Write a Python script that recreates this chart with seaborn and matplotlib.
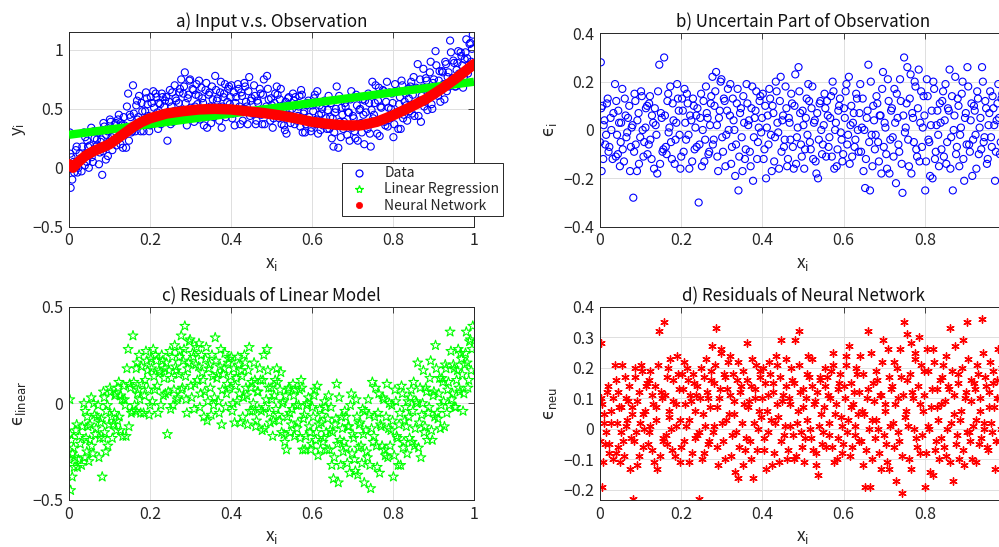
import matplotlib
matplotlib.use("Agg")
import numpy as np
import pandas as pd
import seaborn as sns
import matplotlib.pyplot as plt
from matplotlib.lines import Line2D

# ---------------- data ----------------
x_in = [
    0.002, 0.004, 0.006, 0.009, 0.013, 0.017, 0.021, 0.026, 0.031, 0.037,
    0.042, 0.045, 0.049, 0.052, 0.056, 0.061, 0.065, 0.069, 0.074, 0.078,
    0.082, 0.085, 0.088, 0.092, 0.096, 0.101, 0.105, 0.109, 0.113, 0.117,
    0.121, 0.124, 0.128, 0.133, 0.137, 0.141, 0.146, 0.150, 0.154, 0.158,
    0.162, 0.166, 0.169, 0.173, 0.177, 0.181, 0.186, 0.190, 0.194, 0.198,
    0.202, 0.206, 0.210, 0.214, 0.218, 0.222, 0.227, 0.231, 0.235, 0.238,
    0.243, 0.247, 0.251, 0.255, 0.259, 0.263, 0.267, 0.271, 0.274, 0.278,
    0.282, 0.286, 0.289, 0.293, 0.297, 0.301, 0.305, 0.309, 0.313, 0.317,
    0.321, 0.325, 0.329, 0.333, 0.337, 0.341, 0.345, 0.349, 0.353, 0.357,
    0.361, 0.365, 0.369, 0.373, 0.377, 0.381, 0.385, 0.389, 0.393, 0.397,
    0.401, 0.405, 0.409, 0.413, 0.417, 0.421, 0.425, 0.429, 0.433, 0.437,
    0.441, 0.445, 0.449, 0.453, 0.457, 0.461, 0.465, 0.469, 0.473, 0.477,
    0.481, 0.485, 0.489, 0.493, 0.497, 0.501, 0.505, 0.509, 0.513, 0.517,
    0.521, 0.525, 0.529, 0.533, 0.537, 0.541, 0.545, 0.549, 0.553, 0.557,
    0.561, 0.565, 0.569, 0.573, 0.577, 0.581, 0.585, 0.589, 0.593, 0.597,
    0.601, 0.605, 0.609, 0.613, 0.617, 0.621, 0.625, 0.629, 0.633, 0.637,
    0.641, 0.645, 0.649, 0.653, 0.657, 0.661, 0.665, 0.669, 0.673, 0.677,
    0.681, 0.685, 0.689, 0.693, 0.697, 0.701, 0.705, 0.709, 0.713, 0.717,
    0.721, 0.725, 0.729, 0.733, 0.737, 0.741, 0.745, 0.749, 0.753, 0.757,
    0.761, 0.765, 0.769, 0.773, 0.777, 0.781, 0.785, 0.789, 0.793, 0.797,
    0.801, 0.805, 0.809, 0.813, 0.817, 0.821, 0.825, 0.829, 0.833, 0.837,
    0.841, 0.845, 0.849, 0.853, 0.857, 0.861, 0.865, 0.869, 0.873, 0.877,
    0.881, 0.885, 0.889, 0.893, 0.897, 0.901, 0.905, 0.909, 0.913, 0.917,
    0.921, 0.925, 0.929, 0.933, 0.937, 0.941, 0.945, 0.949, 0.953, 0.957,
    0.961, 0.965, 0.969, 0.973, 0.977, 0.981, 0.985, 0.989, 0.993, 0.997,
    0.000, 0.003, 0.008, 0.011, 0.015, 0.019, 0.023, 0.028, 0.033, 0.039,
    0.040, 0.044, 0.047, 0.051, 0.055, 0.059, 0.063, 0.067, 0.072, 0.076,
    0.080, 0.084, 0.087, 0.091, 0.095, 0.099, 0.103, 0.107, 0.112, 0.116,
    0.120, 0.123, 0.127, 0.131, 0.135, 0.139, 0.143, 0.148, 0.152, 0.156,
    0.160, 0.164, 0.168, 0.171, 0.175, 0.179, 0.184, 0.188, 0.192, 0.196,
    0.200, 0.204, 0.208, 0.212, 0.216, 0.220, 0.225, 0.229, 0.233, 0.237,
    0.240, 0.245, 0.249, 0.253, 0.257, 0.261, 0.265, 0.269, 0.273, 0.277,
    0.280, 0.284, 0.288, 0.291, 0.295, 0.299, 0.303, 0.307, 0.311, 0.315,
    0.320, 0.323, 0.327, 0.331, 0.335, 0.339, 0.343, 0.347, 0.351, 0.355,
    0.359, 0.363, 0.367, 0.371, 0.375, 0.379, 0.383, 0.387, 0.391, 0.395,
    0.399, 0.403, 0.407, 0.411, 0.415, 0.419, 0.423, 0.427, 0.431, 0.435,
    0.439, 0.443, 0.447, 0.451, 0.455, 0.459, 0.463, 0.467, 0.471, 0.475,
    0.479, 0.483, 0.487, 0.491, 0.495, 0.499, 0.503, 0.507, 0.511, 0.515,
    0.519, 0.523, 0.527, 0.531, 0.535, 0.539, 0.543, 0.547, 0.551, 0.555,
    0.559, 0.563, 0.567, 0.571, 0.575, 0.579, 0.583, 0.587, 0.591, 0.595,
    0.599, 0.603, 0.607, 0.611, 0.615, 0.619, 0.623, 0.627, 0.631, 0.635,
    0.639, 0.643, 0.647, 0.651, 0.655, 0.659, 0.663, 0.667, 0.671, 0.675,
    0.679, 0.683, 0.687, 0.691, 0.695, 0.699, 0.703, 0.707, 0.711, 0.715,
    0.719, 0.723, 0.727, 0.731, 0.735, 0.739, 0.743, 0.747, 0.751, 0.755,
    0.759, 0.763, 0.767, 0.771, 0.775, 0.779, 0.783, 0.787, 0.791, 0.795,
    0.799, 0.803, 0.807, 0.811, 0.815, 0.819, 0.823, 0.827, 0.831, 0.835,
    0.839, 0.843, 0.847, 0.851, 0.855, 0.859, 0.863, 0.867, 0.871, 0.875,
    0.879, 0.883, 0.887, 0.891, 0.895, 0.899, 0.903, 0.907, 0.911, 0.915,
    0.919, 0.923, 0.927, 0.931, 0.935, 0.939, 0.943, 0.947, 0.951, 0.955,
    0.959, 0.963, 0.967, 0.971, 0.975, 0.979, 0.983, 0.987, 0.991, 0.995,
]

y_obs = [
    0.30, -0.17, 0.09, 0.02, -0.04, 0.15, -0.04, 0.12, -0.03, 0.30,
    0.12, 0.23, 0.00, 0.19, 0.09, 0.31, 0.15, 0.24, 0.03, 0.22,
    -0.06, 0.38, 0.17, 0.28, 0.10, 0.41, 0.26, 0.22, 0.37, 0.19,
    0.41, 0.27, 0.38, 0.17, 0.36, 0.17, 0.63, 0.45, 0.30, 0.70,
    0.34, 0.53, 0.41, 0.61, 0.31, 0.48, 0.41, 0.64, 0.54, 0.31,
    0.60, 0.39, 0.51, 0.63, 0.47, 0.55, 0.37, 0.60, 0.52, 0.44,
    0.23, 0.56, 0.37, 0.64, 0.48, 0.59, 0.42, 0.55, 0.67, 0.47,
    0.63, 0.81, 0.42, 0.59, 0.74, 0.51, 0.67, 0.39, 0.62, 0.54,
    0.74, 0.48, 0.59, 0.36, 0.66, 0.34, 0.62, 0.52, 0.69, 0.43,
    0.78, 0.57, 0.46, 0.64, 0.34, 0.60, 0.71, 0.50, 0.67, 0.54,
    0.70, 0.46, 0.36, 0.60, 0.71, 0.52, 0.64, 0.40, 0.72, 0.56,
    0.37, 0.77, 0.57, 0.46, 0.70, 0.37, 0.57, 0.48, 0.63, 0.37,
    0.75, 0.48, 0.78, 0.58, 0.40, 0.53, 0.42, 0.63, 0.69, 0.45,
    0.58, 0.37, 0.53, 0.32, 0.29, 0.59, 0.48, 0.42, 0.63, 0.37,
    0.53, 0.44, 0.61, 0.66, 0.30, 0.48, 0.37, 0.55, 0.43, 0.31,
    0.53, 0.59, 0.37, 0.65, 0.45, 0.32, 0.50, 0.38, 0.55, 0.33,
    0.61, 0.43, 0.25, 0.18, 0.47, 0.69, 0.17, 0.39, 0.51, 0.33,
    0.55, 0.36, 0.47, 0.23, 0.65, 0.44, 0.31, 0.62, 0.23, 0.49,
    0.38, 0.58, 0.20, 0.47, 0.33, 0.55, 0.18, 0.73, 0.45, 0.70,
    0.29, 0.68, 0.52, 0.41, 0.65, 0.36, 0.73, 0.51, 0.42, 0.63,
    0.26, 0.71, 0.47, 0.33, 0.60, 0.74, 0.42, 0.56, 0.53, 0.67,
    0.48, 0.73, 0.62, 0.44, 0.68, 0.88, 0.57, 0.39, 0.68, 0.52,
    0.76, 0.49, 0.66, 0.90, 0.50, 0.75, 0.99, 0.64, 0.74, 0.56,
    0.82, 0.71, 0.90, 0.65, 0.81, 1.08, 0.73, 0.91, 0.69, 0.83,
    0.99, 0.77, 0.95, 0.68, 0.92, 1.09, 0.80, 1.05, 0.90, 1.13,
    -0.01, 0.12, -0.10, 0.05, 0.01, 0.18, 0.00, 0.08, 0.18, 0.02,
    0.26, 0.05, 0.18, 0.11, 0.34, 0.05, 0.25, 0.18, 0.30, 0.13,
    0.24, 0.14, 0.35, 0.07, 0.31, 0.22, 0.39, 0.15, 0.28, 0.38,
    0.24, 0.45, 0.20, 0.36, 0.43, 0.33, 0.52, 0.23, 0.43, 0.31,
    0.46, 0.31, 0.57, 0.43, 0.38, 0.55, 0.31, 0.48, 0.59, 0.44,
    0.36, 0.55, 0.65, 0.44, 0.60, 0.33, 0.54, 0.63, 0.42, 0.57,
    0.60, 0.45, 0.66, 0.52, 0.39, 0.70, 0.57, 0.43, 0.64, 0.75,
    0.49, 0.69, 0.55, 0.36, 0.62, 0.75, 0.45, 0.66, 0.52, 0.71,
    0.61, 0.41, 0.68, 0.55, 0.49, 0.72, 0.44, 0.64, 0.38, 0.58,
    0.47, 0.66, 0.59, 0.40, 0.73, 0.52, 0.63, 0.43, 0.56, 0.69,
    0.60, 0.42, 0.64, 0.55, 0.48, 0.67, 0.37, 0.61, 0.50, 0.69,
    0.52, 0.65, 0.44, 0.59, 0.48, 0.61, 0.40, 0.55, 0.67, 0.45,
    0.62, 0.37, 0.52, 0.67, 0.45, 0.59, 0.34, 0.55, 0.48, 0.62,
    0.42, 0.67, 0.52, 0.36, 0.56, 0.45, 0.60, 0.38, 0.50, 0.57,
    0.60, 0.40, 0.52, 0.35, 0.62, 0.46, 0.30, 0.53, 0.57, 0.40,
    0.34, 0.48, 0.62, 0.41, 0.29, 0.53, 0.46, 0.36, 0.57, 0.42,
    0.49, 0.33, 0.55, 0.42, 0.30, 0.50, 0.37, 0.61, 0.26, 0.45,
    0.39, 0.52, 0.28, 0.47, 0.58, 0.34, 0.42, 0.25, 0.53, 0.37,
    0.50, 0.30, 0.45, 0.57, 0.36, 0.63, 0.29, 0.49, 0.42, 0.55,
    0.40, 0.57, 0.27, 0.51, 0.66, 0.39, 0.56, 0.35, 0.64, 0.50,
    0.55, 0.37, 0.65, 0.46, 0.54, 0.33, 0.70, 0.45, 0.63, 0.40,
    0.59, 0.69, 0.46, 0.77, 0.54, 0.67, 0.44, 0.75, 0.61, 0.84,
    0.56, 0.74, 0.63, 0.81, 0.54, 0.72, 0.62, 0.87, 0.61, 0.82,
    0.68, 0.81, 0.58, 0.88, 0.77, 0.69, 0.98, 0.76, 0.89, 0.69,
    0.89, 0.80, 0.98, 0.87, 0.77, 0.98, 0.93, 0.84, 1.06, 1.01,
]

eps_obs = [
    0.28, -0.17, 0.10, 0.02, -0.06, 0.11, -0.09, 0.05, -0.12, 0.19,
    -0.02, 0.08, -0.15, 0.03, -0.08, 0.13, -0.03, 0.05, -0.17, 0.01,
    -0.28, 0.15, -0.06, 0.04, -0.14, 0.16, 0.00, -0.05, 0.09, -0.10,
    0.11, -0.04, 0.06, -0.16, 0.02, -0.18, 0.27, 0.07, -0.09, 0.30,
    -0.07, 0.12, -0.01, 0.18, -0.12, 0.04, -0.04, 0.19, 0.08, -0.16,
    0.13, -0.09, 0.03, 0.15, -0.02, 0.06, -0.13, 0.10, 0.01, -0.07,
    -0.30, 0.05, -0.15, 0.12, -0.04, 0.07, -0.10, 0.02, 0.14, -0.06,
    0.10, 0.24, -0.11, 0.05, 0.20, -0.03, 0.13, -0.15, 0.08, 0.00,
    0.19, -0.07, 0.04, -0.19, 0.11, -0.25, 0.07, -0.03, 0.14, -0.12,
    0.19, 0.02, -0.09, 0.09, -0.21, 0.05, 0.16, -0.05, 0.12, -0.01,
    0.15, -0.08, -0.20, 0.06, 0.17, -0.02, 0.10, -0.13, 0.20, 0.03,
    -0.16, 0.22, 0.04, -0.07, 0.18, -0.15, 0.05, -0.04, 0.11, -0.16,
    0.23, -0.03, 0.26, 0.07, -0.11, 0.02, -0.08, 0.13, 0.19, -0.05,
    0.09, -0.12, 0.04, -0.18, -0.20, 0.11, 0.00, -0.06, 0.15, -0.11,
    0.06, -0.03, 0.14, 0.20, -0.16, 0.03, -0.08, 0.10, -0.01, -0.13,
    0.09, 0.16, -0.06, 0.22, 0.02, -0.11, 0.07, -0.04, 0.13, -0.09,
    0.19, 0.01, -0.17, -0.24, 0.05, 0.27, -0.25, -0.02, 0.10, -0.08,
    0.14, -0.05, 0.06, -0.18, 0.24, 0.03, -0.10, 0.21, -0.18, 0.08,
    -0.03, 0.17, -0.22, 0.05, -0.09, 0.12, -0.26, 0.30, 0.01, 0.26,
    -0.15, 0.23, 0.07, -0.05, 0.18, -0.11, 0.25, 0.03, -0.07, 0.14,
    -0.25, 0.21, -0.04, -0.19, 0.08, 0.20, -0.12, 0.02, -0.02, 0.11,
    -0.08, 0.16, 0.04, -0.14, 0.09, 0.25, -0.03, -0.25, 0.06, -0.10,
    0.13, -0.15, 0.01, 0.20, -0.21, 0.07, 0.26, -0.06, 0.04, -0.19,
    0.10, -0.02, 0.16, -0.10, 0.05, 0.26, -0.05, 0.12, -0.14, 0.02,
    0.16, -0.07, 0.09, -0.21, 0.04, 0.19, -0.10, 0.13, -0.02, 0.21,
    -0.05, 0.09, -0.12, 0.04, -0.02, 0.13, -0.07, 0.00, 0.07, -0.11,
    0.12, -0.10, 0.03, -0.05, 0.17, -0.13, 0.06, -0.01, 0.10, -0.07,
    0.02, -0.09, 0.12, -0.17, 0.07, -0.03, 0.14, -0.11, 0.01, 0.10,
    -0.06, 0.14, -0.12, 0.03, 0.09, -0.02, 0.16, -0.14, 0.05, -0.08,
    0.06, -0.10, 0.15, 0.01, -0.05, 0.11, -0.14, 0.03, 0.13, -0.02,
    -0.11, 0.08, 0.17, -0.04, 0.11, -0.16, 0.04, 0.13, -0.08, 0.06,
    0.09, -0.06, 0.15, 0.00, -0.13, 0.18, 0.05, -0.09, 0.11, 0.22,
    -0.04, 0.16, 0.02, -0.17, 0.08, 0.21, -0.09, 0.12, -0.02, 0.17,
    0.06, -0.14, 0.13, 0.00, -0.06, 0.17, -0.11, 0.09, -0.17, 0.03,
    -0.08, 0.11, 0.04, -0.15, 0.18, -0.03, 0.08, -0.12, 0.01, 0.14,
    0.05, -0.12, 0.10, 0.01, -0.06, 0.13, -0.17, 0.07, -0.03, 0.16,
    -0.01, 0.12, -0.09, 0.06, -0.04, 0.09, -0.12, 0.03, 0.15, -0.07,
    0.10, -0.14, 0.01, 0.16, -0.06, 0.08, -0.16, 0.05, -0.02, 0.12,
    -0.08, 0.18, 0.03, -0.13, 0.07, -0.04, 0.12, -0.10, 0.02, 0.09,
    0.12, -0.07, 0.05, -0.11, 0.16, 0.00, -0.15, 0.08, 0.13, -0.04,
    -0.10, 0.05, 0.19, -0.02, -0.14, 0.10, 0.03, -0.07, 0.15, 0.00,
    0.07, -0.09, 0.13, 0.00, -0.12, 0.08, -0.05, 0.20, -0.15, 0.04,
    -0.02, 0.11, -0.13, 0.06, 0.17, -0.07, 0.01, -0.16, 0.12, -0.04,
    0.09, -0.11, 0.03, 0.15, -0.06, 0.21, -0.14, 0.06, -0.01, 0.11,
    -0.04, 0.13, -0.18, 0.05, 0.20, -0.08, 0.09, -0.13, 0.16, 0.01,
    0.06, -0.13, 0.14, -0.05, 0.02, -0.20, 0.17, -0.09, 0.08, -0.15,
    0.03, 0.12, -0.11, 0.19, -0.05, 0.08, -0.16, 0.14, 0.00, 0.22,
    -0.07, 0.10, -0.02, 0.15, -0.12, 0.05, -0.06, 0.18, -0.09, 0.11,
    -0.04, 0.08, -0.16, 0.13, 0.01, -0.08, 0.20, -0.03, 0.09, -0.12,
    0.07, -0.03, 0.14, 0.02, -0.09, 0.11, 0.05, -0.05, 0.15, 0.09,
]

res_linear = [
    0.02, -0.45, -0.19, -0.26, -0.33, -0.14, -0.33, -0.17, -0.32, 0.00,
    -0.18, -0.07, -0.30, -0.11, -0.22, 0.00, -0.16, -0.07, -0.28, -0.10,
    -0.38, 0.06, -0.15, -0.04, -0.22, 0.08, -0.07, -0.11, 0.04, -0.14,
    0.08, -0.07, 0.04, -0.17, 0.02, -0.17, 0.28, 0.10, -0.05, 0.35,
    -0.01, 0.18, 0.05, 0.25, -0.05, 0.10, 0.04, 0.27, 0.17, -0.06,
    0.23, 0.01, 0.14, 0.25, 0.09, 0.17, -0.01, 0.22, 0.13, 0.05,
    -0.16, 0.17, -0.03, 0.24, 0.07, 0.19, 0.02, 0.15, 0.27, 0.07,
    0.22, 0.40, 0.02, 0.18, 0.32, 0.09, 0.26, -0.03, 0.20, 0.12,
    0.31, 0.05, 0.16, -0.07, 0.23, -0.09, 0.18, 0.08, 0.25, -0.01,
    0.34, 0.13, 0.01, 0.19, -0.11, 0.15, 0.26, 0.05, 0.21, 0.08,
    0.24, 0.00, -0.10, 0.13, 0.24, 0.05, 0.17, -0.07, 0.25, 0.08,
    -0.11, 0.29, 0.08, -0.04, 0.21, -0.12, 0.06, -0.03, 0.12, -0.14,
    0.25, -0.02, 0.28, 0.08, -0.10, 0.02, -0.09, 0.12, 0.18, -0.06,
    0.07, -0.15, 0.01, -0.20, -0.24, 0.07, -0.05, -0.11, 0.10, -0.17,
    -0.01, -0.10, 0.07, 0.12, -0.24, -0.06, -0.17, 0.00, -0.12, -0.24,
    -0.02, 0.04, -0.19, 0.09, -0.11, -0.24, -0.06, -0.18, -0.02, -0.24,
    0.04, -0.14, -0.32, -0.39, -0.11, 0.10, -0.41, -0.19, -0.07, -0.25,
    -0.04, -0.23, -0.12, -0.36, 0.05, -0.16, -0.29, 0.02, -0.37, -0.11,
    -0.22, -0.03, -0.41, -0.14, -0.28, -0.06, -0.44, 0.11, -0.17, 0.08,
    -0.33, 0.05, -0.11, -0.22, 0.02, -0.27, 0.10, -0.13, -0.22, -0.01,
    -0.38, 0.07, -0.17, -0.32, -0.05, 0.09, -0.23, -0.09, -0.12, 0.01,
    -0.18, 0.07, -0.04, -0.22, 0.01, 0.21, -0.10, -0.28, 0.00, -0.15,
    0.08, -0.19, -0.02, 0.22, -0.19, 0.06, 0.30, -0.05, 0.05, -0.13,
    0.13, 0.01, 0.20, -0.05, 0.11, 0.37, 0.02, 0.20, -0.02, 0.12,
    0.28, 0.06, 0.23, -0.04, 0.20, 0.37, 0.08, 0.32, 0.17, 0.40,
    -0.29, -0.16, -0.38, -0.23, -0.28, -0.11, -0.29, -0.21, -0.12, -0.28,
    -0.04, -0.25, -0.12, -0.19, 0.03, -0.26, -0.06, -0.13, -0.01, -0.18,
    -0.08, -0.18, 0.03, -0.25, -0.01, -0.11, 0.06, -0.18, -0.05, 0.05,
    -0.09, 0.11, -0.14, 0.02, 0.09, -0.01, 0.18, -0.12, 0.08, -0.04,
    0.11, -0.04, 0.21, 0.07, 0.02, 0.19, -0.05, 0.12, 0.22, 0.07,
    -0.01, 0.18, 0.28, 0.07, 0.22, -0.05, 0.16, 0.25, 0.04, 0.18,
    0.21, 0.06, 0.27, 0.13, -0.01, 0.30, 0.17, 0.03, 0.24, 0.35,
    0.08, 0.28, 0.14, -0.05, 0.21, 0.33, 0.03, 0.24, 0.10, 0.29,
    0.19, -0.02, 0.25, 0.12, 0.06, 0.29, 0.01, 0.20, -0.06, 0.14,
    0.03, 0.22, 0.15, -0.05, 0.28, 0.07, 0.18, -0.02, 0.10, 0.23,
    0.14, -0.04, 0.18, 0.09, 0.01, 0.20, -0.10, 0.14, 0.03, 0.21,
    0.04, 0.17, -0.04, 0.11, 0.00, 0.12, -0.09, 0.06, 0.18, -0.04,
    0.12, -0.13, 0.02, 0.17, -0.05, 0.08, -0.17, 0.04, -0.03, 0.11,
    -0.09, 0.16, 0.00, -0.16, 0.04, -0.07, 0.08, -0.15, -0.03, 0.04,
    0.07, -0.13, -0.01, -0.18, 0.08, -0.08, -0.24, -0.01, 0.03, -0.15,
    -0.21, -0.07, 0.07, -0.15, -0.27, -0.03, -0.10, -0.20, 0.01, -0.15,
    -0.08, -0.24, -0.02, -0.15, -0.28, -0.08, -0.21, 0.03, -0.32, -0.13,
    -0.20, -0.07, -0.31, -0.12, -0.01, -0.26, -0.18, -0.35, -0.07, -0.23,
    -0.10, -0.31, -0.16, -0.04, -0.25, 0.02, -0.32, -0.13, -0.20, -0.07,
    -0.22, -0.05, -0.36, -0.12, 0.03, -0.24, -0.07, -0.28, 0.00, -0.14,
    -0.09, -0.27, 0.01, -0.18, -0.11, -0.32, 0.05, -0.20, -0.02, -0.26,
    -0.07, 0.03, -0.20, 0.11, -0.13, 0.00, -0.23, 0.08, -0.06, 0.17,
    -0.12, 0.06, -0.05, 0.13, -0.14, 0.04, -0.07, 0.18, -0.08, 0.13,
    -0.01, 0.11, -0.12, 0.18, 0.07, -0.01, 0.27, 0.05, 0.18, -0.02,
    0.17, 0.08, 0.26, 0.15, 0.05, 0.26, 0.21, 0.12, 0.33, 0.28,
]

res_neural = [
    0.28, -0.19, 0.08, 0.02, -0.05, 0.12, -0.08, 0.06, -0.10, 0.21,
    0.02, 0.12, -0.11, 0.07, -0.04, 0.17, 0.01, 0.09, -0.13, 0.05,
    -0.23, 0.20, -0.01, 0.09, -0.09, 0.21, 0.05, 0.00, 0.14, -0.05,
    0.16, 0.01, 0.11, -0.11, 0.07, -0.13, 0.32, 0.12, -0.04, 0.35,
    -0.02, 0.17, 0.04, 0.23, -0.07, 0.09, 0.01, 0.24, 0.13, -0.11,
    0.18, -0.04, 0.08, 0.20, 0.03, 0.11, -0.08, 0.15, 0.06, -0.02,
    -0.23, 0.10, -0.10, 0.17, 0.01, 0.12, -0.05, 0.07, 0.19, -0.01,
    0.15, 0.33, -0.06, 0.10, 0.25, 0.02, 0.18, -0.10, 0.13, 0.05,
    0.24, -0.02, 0.09, -0.14, 0.16, -0.16, 0.12, 0.02, 0.19, -0.07,
    0.28, 0.07, -0.04, 0.14, -0.16, 0.10, 0.21, 0.00, 0.17, 0.04,
    0.20, -0.03, -0.13, 0.11, 0.22, 0.03, 0.15, -0.08, 0.24, 0.08,
    -0.11, 0.29, 0.09, -0.02, 0.23, -0.10, 0.10, 0.01, 0.16, -0.10,
    0.29, 0.02, 0.32, 0.12, -0.06, 0.07, -0.03, 0.18, 0.24, 0.00,
    0.14, -0.07, 0.09, -0.12, -0.15, 0.16, 0.05, -0.01, 0.20, -0.06,
    0.11, 0.02, 0.19, 0.25, -0.11, 0.08, -0.03, 0.15, 0.04, -0.08,
    0.14, 0.21, -0.01, 0.27, 0.07, -0.06, 0.12, 0.01, 0.18, -0.04,
    0.24, 0.06, -0.12, -0.19, 0.10, 0.32, -0.19, 0.03, 0.15, -0.03,
    0.19, 0.00, 0.11, -0.13, 0.29, 0.08, -0.05, 0.26, -0.13, 0.13,
    0.02, 0.22, -0.17, 0.10, -0.04, 0.17, -0.21, 0.35, 0.06, 0.31,
    -0.10, 0.28, 0.12, 0.00, 0.23, -0.06, 0.30, 0.08, -0.02, 0.19,
    -0.19, 0.26, 0.01, -0.14, 0.13, 0.26, -0.07, 0.07, 0.03, 0.16,
    -0.03, 0.21, 0.09, -0.09, 0.14, 0.33, 0.02, -0.17, 0.11, -0.05,
    0.18, -0.10, 0.06, 0.29, -0.12, 0.12, 0.35, -0.01, 0.09, -0.10,
    0.15, 0.03, 0.21, -0.05, 0.10, 0.36, 0.00, 0.17, -0.06, 0.07,
    0.22, -0.01, 0.15, -0.13, 0.10, 0.26, -0.04, 0.20, 0.04, 0.26,
    -0.04, 0.10, -0.11, 0.05, -0.01, 0.14, -0.05, 0.02, 0.10, -0.08,
    0.16, -0.06, 0.07, -0.01, 0.21, -0.09, 0.10, 0.03, 0.14, -0.03,
    0.07, -0.04, 0.17, -0.12, 0.12, 0.02, 0.19, -0.06, 0.06, 0.15,
    -0.01, 0.19, -0.07, 0.08, 0.14, 0.03, 0.21, -0.09, 0.10, -0.03,
    0.11, -0.05, 0.20, 0.06, 0.00, 0.16, -0.09, 0.08, 0.18, 0.03,
    -0.06, 0.13, 0.22, 0.01, 0.16, -0.11, 0.09, 0.18, -0.03, 0.11,
    0.14, -0.01, 0.20, 0.05, -0.08, 0.23, 0.10, -0.04, 0.16, 0.27,
    0.01, 0.21, 0.07, -0.12, 0.13, 0.26, -0.04, 0.17, 0.03, 0.22,
    0.11, -0.09, 0.18, 0.05, -0.01, 0.22, -0.06, 0.14, -0.12, 0.08,
    -0.03, 0.16, 0.09, -0.10, 0.23, 0.02, 0.13, -0.07, 0.06, 0.19,
    0.10, -0.07, 0.15, 0.06, -0.01, 0.18, -0.12, 0.12, 0.02, 0.21,
    0.04, 0.17, -0.04, 0.11, 0.01, 0.14, -0.07, 0.08, 0.20, -0.02,
    0.15, -0.09, 0.06, 0.21, -0.01, 0.13, -0.11, 0.10, 0.03, 0.17,
    -0.03, 0.23, 0.08, -0.08, 0.12, 0.01, 0.17, -0.05, 0.07, 0.14,
    0.17, -0.02, 0.10, -0.06, 0.21, 0.05, -0.10, 0.13, 0.18, 0.01,
    -0.05, 0.10, 0.24, 0.03, -0.09, 0.15, 0.08, -0.02, 0.20, 0.05,
    0.12, -0.04, 0.18, 0.05, -0.07, 0.13, 0.00, 0.25, -0.10, 0.09,
    0.03, 0.16, -0.08, 0.11, 0.22, -0.02, 0.06, -0.11, 0.17, 0.01,
    0.14, -0.06, 0.08, 0.20, -0.01, 0.26, -0.09, 0.11, 0.04, 0.16,
    0.01, 0.18, -0.13, 0.10, 0.25, -0.03, 0.14, -0.08, 0.21, 0.06,
    0.11, -0.08, 0.19, 0.00, 0.07, -0.15, 0.22, -0.04, 0.13, -0.10,
    0.08, 0.17, -0.06, 0.24, 0.00, 0.13, -0.11, 0.19, 0.05, 0.27,
    -0.02, 0.15, 0.03, 0.20, -0.07, 0.10, -0.01, 0.23, -0.04, 0.16,
    0.01, 0.13, -0.11, 0.18, 0.06, -0.03, 0.25, 0.02, 0.14, -0.07,
    0.12, 0.02, 0.19, 0.07, -0.04, 0.16, 0.10, 0.00, 0.20, 0.14,
]

# fitted curves
lin_x = [0.0, 1.0]
lin_y = [0.28, 0.73]
nn_x = [0.00, 0.01, 0.02, 0.04, 0.06, 0.08, 0.10, 0.12, 0.14, 0.16, 0.18, 0.20,
        0.24, 0.28, 0.32, 0.36, 0.40, 0.44, 0.48, 0.52, 0.56, 0.60, 0.64, 0.68,
        0.72, 0.76, 0.80, 0.84, 0.88, 0.92, 0.96, 1.00]
nn_y = [0.03, 0.00, 0.04, 0.10, 0.14, 0.17, 0.20, 0.25, 0.30, 0.35, 0.39, 0.42,
        0.46, 0.48, 0.495, 0.50, 0.495, 0.48, 0.465, 0.445, 0.42, 0.39, 0.372, 0.36,
        0.36, 0.39, 0.445, 0.51, 0.58, 0.67, 0.77, 0.88]

titles = ["a) Input v.s. Observation", "b) Uncertain Part of Observation",
          "c) Residuals of Linear Model", "d) Residuals of Neural Network"]
ylabels = ["y$_i$", "\u03f5$_i$", "\u03f5$_{linear}$", "\u03f5$_{neu}$"]
xlabel = "x$_i$"
legend_labels = ["Data", "Linear Regression", "Neural Network"]

xticks_left = [0, 0.2, 0.4, 0.6, 0.8, 1.0]
xticklabels_left = ["0", "0.2", "0.4", "0.6", "0.8", "1"]
xticks_right = [0, 0.2, 0.4, 0.6, 0.8]
xticklabels_right = ["0", "0.2", "0.4", "0.6", "0.8"]
yticks_a = [-0.5, 0, 0.5, 1]
yticklabels_a = ["\u22120.5", "0", "0.5", "1"]
yticks_b = [-0.4, -0.2, 0, 0.2, 0.4]
yticklabels_b = ["\u22120.4", "\u22120.2", "0", "0.2", "0.4"]
yticks_c = [-0.5, 0, 0.5]
yticklabels_c = ["\u22120.5", "0", "0.5"]
yticks_d = [-0.2, -0.1, 0, 0.1, 0.2, 0.3, 0.4]
yticklabels_d = ["\u22120.2", "\u22120.1", "0", "0.1", "0.2", "0.3", "0.4"]

df = pd.DataFrame({"x": x_in, "y": y_obs, "eps": eps_obs,
                   "rlin": res_linear, "rnn": res_neural})
df_lin = pd.DataFrame({"x": lin_x, "y": lin_y})
df_nn = pd.DataFrame({"x": nn_x, "y": nn_y})

# ---------------- style ----------------
sns.set_theme(style="white")
plt.rcParams["font.family"] = ["Noto Sans CJK JP", "DejaVu Sans"]
plt.rcParams["mathtext.default"] = "regular"
plt.rcParams["axes.unicode_minus"] = True

TXT = "#262626"
GRID = "#dfdfdf"

fig = plt.figure(figsize=(9.99, 5.47), dpi=100)
W, H = 999.0, 547.0
def box(l, t, w, h):
    return [l / W, 1 - (t + h) / H, w / W, h / H]

axA = fig.add_axes(box(69, 32.3, 405, 194.4))
axB = fig.add_axes(box(600, 33.3, 406, 193.4))
axC = fig.add_axes(box(69, 306.7, 405, 193.3))
axD = fig.add_axes(box(600, 306.7, 406, 193.3))

def style(ax, title, ylabel, xt, xtl, yt, ytl, ylim, yfam):
    ax.set_xlim(0, 1)
    ax.set_ylim(*ylim)
    ax.set_xticks(xt)
    ax.set_xticklabels(xtl)
    ax.set_yticks(yt)
    ax.set_yticklabels(ytl)
    ax.grid(True, color=GRID, linewidth=0.7)
    ax.set_axisbelow(True)
    ax.tick_params(direction="in", length=4, width=0.6, top=True, right=True,
                   labelsize=11.5, colors=TXT, pad=4)
    for s in ax.spines.values():
        s.set_color(TXT)
        s.set_linewidth(0.7)
    ax.set_title(title, fontsize=12.2, color="#111111", pad=4)
    ax.set_xlabel(xlabel, fontsize=12.5, color=TXT, labelpad=4)
    ax.set_ylabel(ylabel, fontsize=12, color=TXT, labelpad=3, family=yfam)

# a) data + fits
sns.scatterplot(data=df, x="x", y="y", ax=axA, marker="o", s=26,
                facecolor="none", edgecolor="#0000ff", linewidth=0.8, zorder=2)
sns.lineplot(data=df_lin, x="x", y="y", ax=axA, color="#00ff00", linewidth=6,
             estimator=None, sort=False, zorder=3, solid_capstyle="butt")
sns.lineplot(data=df_nn, x="x", y="y", ax=axA, color="#ff0000", linewidth=7.5,
             estimator=None, sort=False, zorder=4, solid_capstyle="round")
style(axA, titles[0], ylabels[0], xticks_left, xticklabels_left,
      yticks_a, yticklabels_a, (-0.5, 1.15), ["Noto Sans CJK JP", "DejaVu Sans"])
handles = [
    Line2D([], [], ls="", marker="o", ms=5, mfc="none", mec="#0000ff", mew=0.9),
    Line2D([], [], ls="", marker="*", ms=6, mfc="none", mec="#00ff00", mew=0.9),
    Line2D([], [], ls="", marker="o", ms=4.5, mfc="#ff0000", mec="#ff0000", mew=0.5),
]
leg = axA.legend(handles, legend_labels, loc="lower left",
                 bbox_to_anchor=(0.674, 0.055), borderaxespad=0, fontsize=10,
                 frameon=True, fancybox=False, framealpha=1, edgecolor=TXT,
                 labelspacing=0.15, handletextpad=0.9, borderpad=0.25,
                 handlelength=1.9)
leg.get_frame().set_linewidth(0.7)
leg.set_zorder(10)

# b) uncertain part
sns.scatterplot(data=df, x="x", y="eps", ax=axB, marker="o", s=26,
                facecolor="none", edgecolor="#0000ff", linewidth=0.8)
style(axB, titles[1], ylabels[1], xticks_right, xticklabels_right,
      yticks_b, yticklabels_b, (-0.4, 0.4), "DejaVu Sans")

# c) residuals linear
sns.scatterplot(data=df, x="x", y="rlin", ax=axC, marker="*", s=55,
                facecolor="none", edgecolor="#00ff00", linewidth=0.8)
style(axC, titles[2], ylabels[2], xticks_left, xticklabels_left,
      yticks_c, yticklabels_c, (-0.5, 0.5), "DejaVu Sans")

# d) residuals NN
sns.scatterplot(data=df, x="x", y="rnn", ax=axD, marker=(6, 2, 0), s=28,
                color="#ff0000", linewidth=1.0)
style(axD, titles[3], ylabels[3], xticks_right, xticklabels_right,
      yticks_d, yticklabels_d, (-0.233, 0.4), "DejaVu Sans")

fig.savefig("out.png", dpi=100)
